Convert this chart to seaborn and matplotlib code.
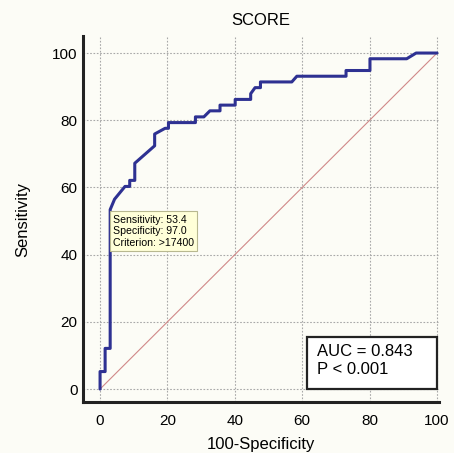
import numpy as np
import pandas as pd
import seaborn as sns
import matplotlib
matplotlib.use("Agg")
import matplotlib.pyplot as plt
from matplotlib.patches import Rectangle
from matplotlib.ticker import MultipleLocator

# ROC curve vertices (100-Specificity, Sensitivity)
fpr = [0, 0, 1.5, 1.5, 3.0, 3.0, 4.3, 7.4, 8.8, 8.8, 10.3, 10.3, 16.2, 16.2,
       19.3, 20.3, 20.3, 28.3, 28.3, 30.8, 32.6, 35.6, 35.6, 40.1, 40.1, 44.7,
       44.7, 46.0, 47.6, 47.6, 56.9, 58.4, 73.0, 73.0, 80.1, 80.1, 91.0, 93.8, 100]
tpr = [0, 5.2, 5.2, 12.1, 12.1, 53.4, 56.5, 60.3, 60.3, 62.1, 62.1, 67.2, 72.4, 75.9,
       77.6, 77.6, 79.3, 79.3, 81.0, 81.0, 82.8, 82.8, 84.5, 84.5, 86.2, 86.2,
       87.9, 89.7, 89.7, 91.4, 91.4, 93.1, 93.1, 94.8, 94.8, 98.3, 98.3, 100, 100]
ref_x = [0, 100]
ref_y = [0, 100]

title = "SCORE"
xlabel = "100-Specificity"
ylabel = "Sensitivity"
ticks = [0, 20, 40, 60, 80, 100]
crit_text = "Sensitivity: 53.4\nSpecificity: 97.0\nCriterion: >17400"
auc_text = "AUC = 0.843\nP < 0.001"

roc = pd.DataFrame({"fpr": fpr, "tpr": tpr})
ref = pd.DataFrame({"x": ref_x, "y": ref_y})

sns.set_style("white")
plt.rcParams["font.family"] = ["Liberation Sans", "DejaVu Sans"]
plt.rcParams["text.color"] = "black"
plt.rcParams["axes.labelcolor"] = "black"
plt.rcParams["xtick.color"] = "black"
plt.rcParams["ytick.color"] = "black"

bg = "#fcfcf6"
fig = plt.figure(figsize=(4.54, 4.53), dpi=100, facecolor=bg)
ax = fig.add_axes([0.1833, 0.113, 0.783, 0.807])
ax.set_facecolor(bg)

sns.lineplot(data=ref, x="x", y="y", ax=ax, color="#d08888", lw=0.8, sort=False)
sns.lineplot(data=roc, x="fpr", y="tpr", ax=ax, color="#2e3192", lw=2.2,
             sort=False, estimator=None, zorder=5)

ax.set_xlim(-5, 100.5)
ax.set_ylim(-3.8, 105)
ax.set_xticks(ticks)
ax.set_yticks(ticks)
ax.xaxis.set_minor_locator(MultipleLocator(5))
ax.yaxis.set_minor_locator(MultipleLocator(5))
ax.grid(True, which="major", color="#a8a8a8", ls=(0, (1.5, 1.5)), lw=0.8)

for side in ["top", "right"]:
    ax.spines[side].set_visible(False)
for side in ["left", "bottom"]:
    ax.spines[side].set_linewidth(2.2)
    ax.spines[side].set_color("#222222")

ax.tick_params(axis="y", which="major", direction="in", length=11.5, width=2.2,
               color="#222222", labelsize=11, pad=4)
ax.tick_params(axis="y", which="minor", direction="in", length=6, width=1.4, color="#222222")
ax.tick_params(axis="x", which="major", direction="in", length=8.5, width=2.2,
               color="#222222", labelsize=11, pad=9)
ax.tick_params(axis="x", which="minor", direction="in", length=5, width=1.4, color="#222222")

ax.set_title(title, fontsize=12, pad=8, color="black")
ax.set_xlabel(xlabel, fontsize=12, labelpad=6)
ax.set_ylabel(ylabel, fontsize=12, labelpad=16)

ax.text(3.8, 51.9, crit_text, fontsize=7.6, va="top", ha="left", linespacing=1.2,
        zorder=6, bbox=dict(boxstyle="square,pad=0.3", fc="#ffffd8", ec="#b8b890", lw=0.8))

# AUC box
ax.add_patch(Rectangle((61.4, 0), 38.6, 15.5, fc="white", ec="#222222", lw=1.6, zorder=6))
ax.text(64.4, 13.4, auc_text, fontsize=12, va="top", ha="left", linespacing=1.25, zorder=7)

fig.savefig("out.png", dpi=100, facecolor=bg)
